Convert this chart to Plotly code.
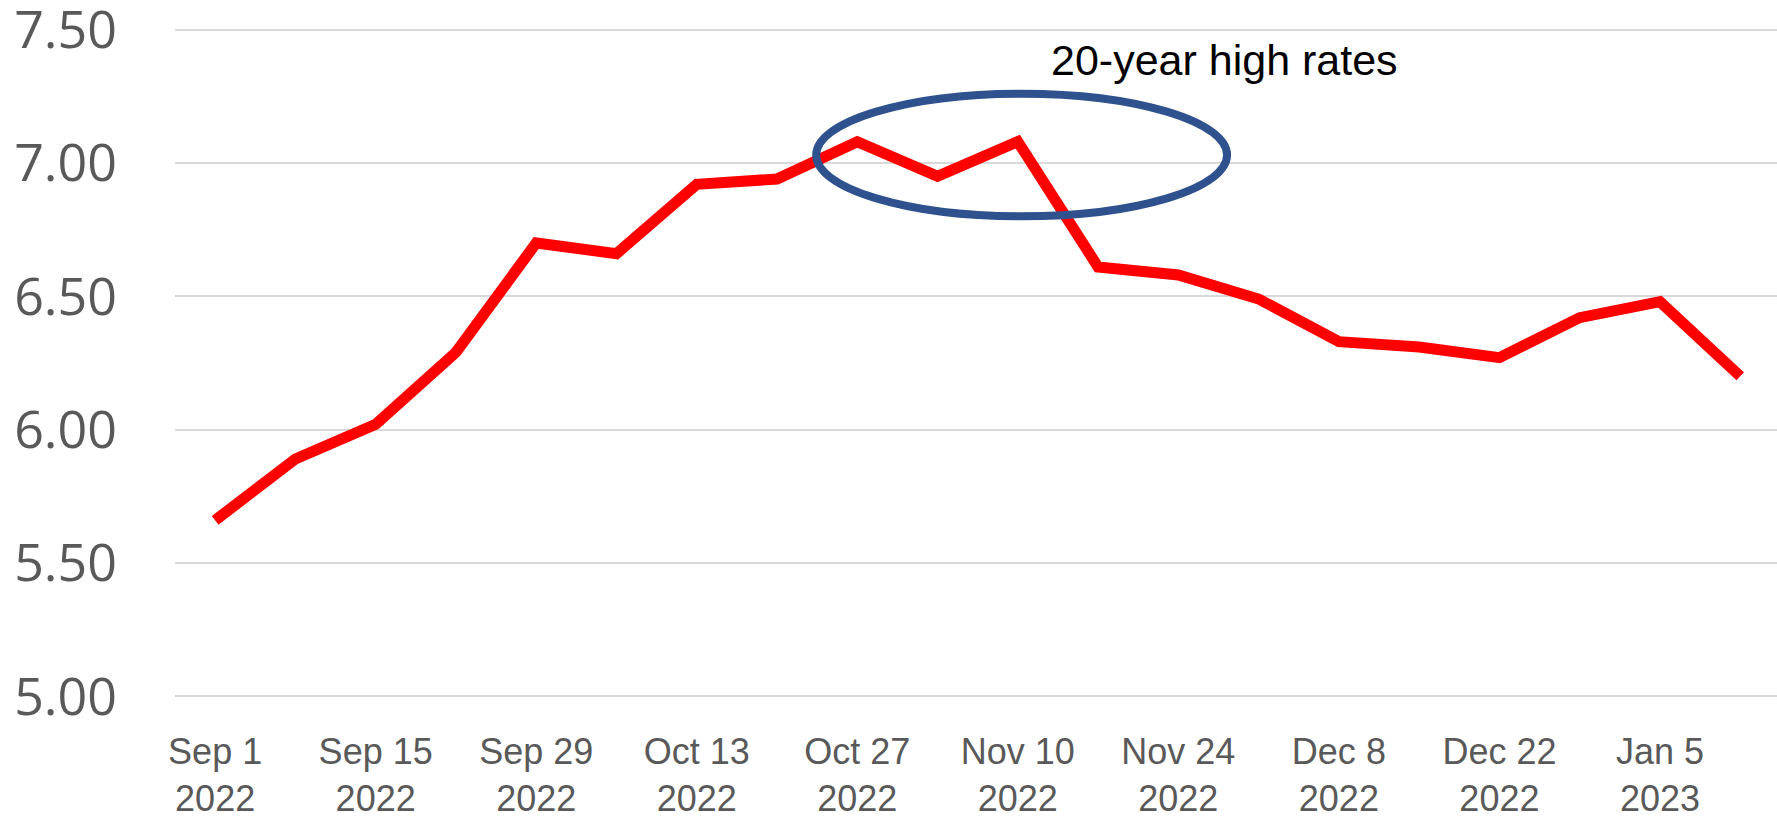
import plotly.graph_objects as go

# ---- data ----
dates = ["2022-09-01", "2022-09-08", "2022-09-15", "2022-09-22", "2022-09-29",
         "2022-10-06", "2022-10-13", "2022-10-20", "2022-10-27", "2022-11-03",
         "2022-11-10", "2022-11-17", "2022-11-24", "2022-12-01", "2022-12-08",
         "2022-12-15", "2022-12-22", "2022-12-29", "2023-01-05", "2023-01-12"]
rates = [5.66, 5.89, 6.02, 6.29, 6.70, 6.66, 6.92, 6.94, 7.08, 6.95,
         7.08, 6.61, 6.58, 6.49, 6.33, 6.31, 6.27, 6.42, 6.48, 6.20]

tick_dates = ["2022-09-01", "2022-09-15", "2022-09-29", "2022-10-13", "2022-10-27",
              "2022-11-10", "2022-11-24", "2022-12-08", "2022-12-22", "2023-01-05"]
tick_labels = ["Sep 1<br>2022", "Sep 15<br>2022", "Sep 29<br>2022", "Oct 13<br>2022",
               "Oct 27<br>2022", "Nov 10<br>2022", "Nov 24<br>2022", "Dec 8<br>2022",
               "Dec 22<br>2022", "Jan 5<br>2023"]
y_ticks = [5.0, 5.5, 6.0, 6.5, 7.0, 7.5]

annotation_text = "20-year high rates"
annotation_pos = ("2022-11-28", 7.385)
ellipse_box = ("2022-10-23 10:00", "2022-11-28 06:00", 6.80, 7.26)

x_range = ["2022-08-28 12:00", "2023-01-15 05:00"]
y_range = [4.99, 7.51]

fig = go.Figure()
fig.add_trace(go.Scatter(
    x=dates, y=rates, mode="lines",
    line=dict(color="#FF0000", width=11),
    hoverinfo="x+y", showlegend=False,
))

fig.add_shape(type="circle", xref="x", yref="y",
              x0=ellipse_box[0], x1=ellipse_box[1], y0=ellipse_box[2], y1=ellipse_box[3],
              line=dict(color="#2F528F", width=8), layer="above")

fig.add_annotation(x=annotation_pos[0], y=annotation_pos[1], xref="x", yref="y",
                   text=annotation_text, showarrow=False,
                   font=dict(family="Liberation Sans, Arial, sans-serif", size=43, color="#000000"),
                   xanchor="center", yanchor="middle")

fig.update_layout(
    width=1777, height=821,
    margin=dict(l=175, r=0, t=27, b=122),
    paper_bgcolor="white", plot_bgcolor="white",
    showlegend=False,
)
fig.update_xaxes(
    type="date", range=x_range, automargin=False,
    tickmode="array", tickvals=tick_dates, ticktext=tick_labels,
    showgrid=False, zeroline=False, showline=False, ticks="",
    tickfont=dict(family="Liberation Sans, Arial, sans-serif", size=36, color="#595959"),
    ticklabelstandoff=28, ticklabeloverflow="allow",
)
fig.update_yaxes(
    range=y_range, tickmode="array", tickvals=y_ticks, automargin=False,
    tickformat=".2f",
    showgrid=True, gridcolor="#D9D9D9", gridwidth=2,
    zeroline=False, showline=False, ticks="",
    tickfont=dict(family="Open Sans, sans-serif", size=52, color="#595959"),
    ticklabelstandoff=57, ticklabeloverflow="allow",
)

fig.write_html("out.html", config={"displayModeBar": False},
               post_script="document.body.style.margin='0';document.body.style.overflow='hidden';")
